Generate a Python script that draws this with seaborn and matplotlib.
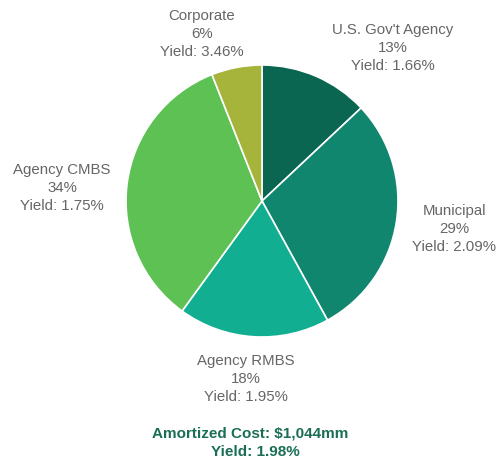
import matplotlib
matplotlib.use("Agg")
import matplotlib.pyplot as plt
import seaborn as sns

# Portfolio composition
sectors = ["U.S. Gov't Agency", "Municipal", "Agency RMBS", "Agency CMBS", "Corporate"]
shares = [13, 29, 18, 34, 6]
yields = [1.66, 2.09, 1.95, 1.75, 3.46]
colors = ["#0a6651", "#11866f", "#12ae91", "#5ec153", "#a6b43c"]

total_cost = "$1,044mm"
total_yield = 1.98

sns.set_theme(style="white")
plt.rcParams["font.family"] = ["Liberation Sans", "DejaVu Sans"]

W, H = 497, 463
fig = plt.figure(figsize=(W / 100, H / 100), dpi=100)
ax = fig.add_axes([0, 0, 1, 1])

cx, cy, r = 262, H - 201, 136
ax.pie(shares, colors=colors, startangle=90, counterclock=False,
       center=(cx, cy), radius=r,
       wedgeprops=dict(edgecolor="white", linewidth=1.2))
ax.set_xlim(0, W)
ax.set_ylim(0, H)
ax.set_aspect("equal")
ax.axis("off")

# label anchor positions (pixel coordinates of the text block centre)
label_pos = [(393, 48), (454, 229), (246, 379), (62, 188), (202, 34)]
for name, s, y, (lx, ly) in zip(sectors, shares, yields, label_pos):
    ax.text(lx, H - ly, f"{name}\n{s}%\nYield: {y:.2f}%",
            ha="center", va="center", fontsize=10.8, color="#666666",
            linespacing=1.36)

ax.text(250, H - 434, f"Amortized Cost: {total_cost}", ha="center", va="center",
        fontsize=11, fontweight="bold", color="#1b6e56")
ax.text(255, H - 452, f"Yield: {total_yield:.2f}%", ha="center", va="center",
        fontsize=11, fontweight="bold", color="#1b6e56")

fig.savefig("out.png", dpi=100)
